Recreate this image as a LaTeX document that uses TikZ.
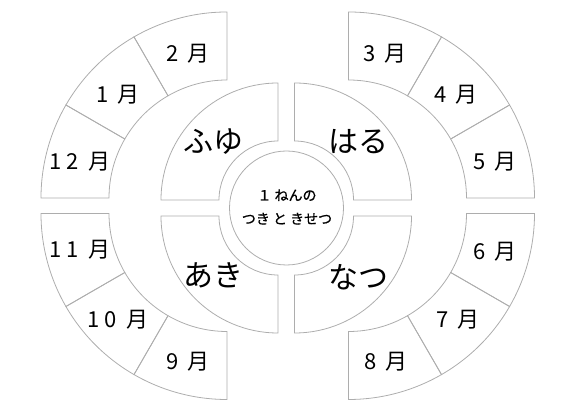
\documentclass[tikz,border=0pt]{standalone}
\usepackage{fontspec}
\setmainfont{Noto Sans CJK JP}
\newfontfamily\cjkmedium[FakeBold=0.8]{Noto Sans CJK JP}
\newcommand\annsec[6]{%
  \begin{scope}[shift={(#1,#2)}]
    \draw[outline] (#5:#3) arc[start angle=#5,end angle=#6,radius=#3]
      -- (#6:#4) arc[start angle=#6,end angle=#5,radius=#4] -- cycle;
  \end{scope}}
\newcommand\dgap{\kern5pt}
\newcommand\mgap{\kern9pt}
\tikzset{
  outline/.style={draw=black!32, line width=0.8pt},
  month/.style={font=\fontsize{22}{26}\selectfont, inner sep=0pt},
  season/.style={font=\fontsize{30}{36}\selectfont, inner sep=0pt},
  centre/.style={font=\cjkmedium\fontsize{14}{23.5}\selectfont, align=center, inner sep=0pt},
}
\begin{document}
\begin{tikzpicture}[x=1pt,y=1pt]
\useasboundingbox (0,0) rectangle (583,411);
% month rings
\annsec{227}{213}{118}{186}{90}{120}
\annsec{227}{213}{118}{186}{120}{150}
\annsec{227}{213}{118}{186}{150}{180}
\annsec{348.5}{213}{118}{186}{60}{90}
\annsec{348.5}{213}{118}{186}{30}{60}
\annsec{348.5}{213}{118}{186}{0}{30}
\annsec{227}{197.5}{118}{186}{180}{210}
\annsec{227}{197.5}{118}{186}{210}{240}
\annsec{227}{197.5}{118}{186}{240}{270}
\annsec{348.5}{197.5}{118}{186}{270}{300}
\annsec{348.5}{197.5}{118}{186}{300}{330}
\annsec{348.5}{197.5}{118}{186}{330}{360}
% season sectors
\annsec{278}{211}{59}{117}{90}{180}
\annsec{294.5}{211}{59}{117}{0}{90}
\annsec{278}{195}{59}{117}{180}{270}
\annsec{294.5}{195}{59}{117}{270}{360}
% centre circle
\draw[outline] (286.5,203) circle[radius=57];
% month labels
\node[month] (m2)  at (188,357) {2\mgap 月};
\node[month] (m1)  at (118,316) {1\mgap 月};
\node[month] (m12) at (80,249)  {1\dgap 2\mgap 月};
\node[month] (m3)  at (385,357) {3\mgap 月};
\node[month] (m4)  at (456,316) {4\mgap 月};
\node[month] (m5)  at (495,249) {5\mgap 月};
\node[month] (m11) at (80,161)  {1\dgap 1\mgap 月};
\node[month] (m10) at (118,91)  {1\dgap 0\mgap 月};
\node[month] (m9)  at (188,49)  {9\mgap 月};
\node[month] (m6)  at (495,159) {6\mgap 月};
\node[month] (m7)  at (458,91)  {7\mgap 月};
\node[month] (m8)  at (386,49)  {8\mgap 月};
% season labels
\node[season] (fuyu) at (213,269) {ふゆ};
\node[season] (haru) at (358,269) {はる};
\node[season] (aki)  at (213,136) {あき};
\node[season] (natsu) at (358,134) {なつ};
% centre text
\node[centre] (title) at (287,204) {１ ねんの\\つき と きせつ};
\end{tikzpicture}
\end{document}
